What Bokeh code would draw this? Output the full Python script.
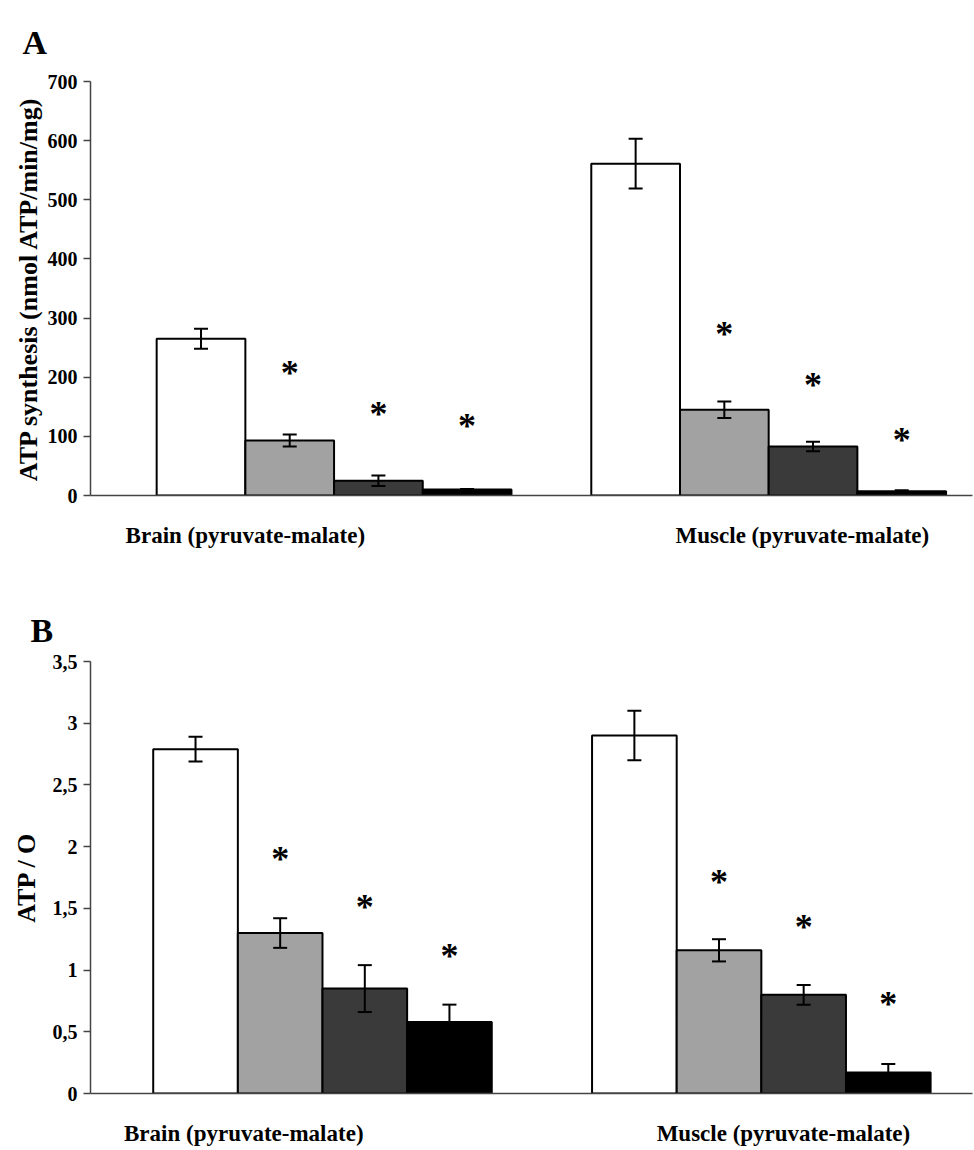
from bokeh.plotting import figure
from bokeh.layouts import column
from bokeh.models import Range1d, FixedTicker, ColumnDataSource, Whisker, TeeHead, Title
from bokeh.embed import file_html
from bokeh.resources import INLINE
from bokeh.core.properties import value

# ---------------- data ----------------
bar_colors = ["#ffffff", "#a2a2a2", "#3a3a3a", "#000000"]

a_groups = ["Brain (pyruvate-malate)", "Muscle (pyruvate-malate)"]
a_brain = [265, 93, 25, 10]
a_brain_err = [17, 10, 9, 1]
a_muscle = [561, 145, 83, 7]
a_muscle_err = [42, 14, 8, 2]
a_brain_star = [214, 144, 124]
a_muscle_star = [279, 193, 101]
a_ticks = [0, 100, 200, 300, 400, 500, 600, 700]
a_tick_labels = ["0", "100", "200", "300", "400", "500", "600", "700"]

b_groups = ["Brain (pyruvate-malate)", "Muscle  (pyruvate-malate)"]
b_brain = [2.79, 1.30, 0.85, 0.58]
b_brain_err = [0.10, 0.12, 0.19, 0.14]
b_muscle = [2.90, 1.16, 0.80, 0.17]
b_muscle_err = [0.20, 0.09, 0.08, 0.07]
b_brain_star = [1.93, 1.54, 1.15]
b_muscle_star = [1.75, 1.38, 0.76]
b_ticks = [0, 0.5, 1, 1.5, 2, 2.5, 3, 3.5]
b_tick_labels = ["0", "0,5", "1", "1,5", "2", "2,5", "3", "3,5"]

FONT = "Liberation Serif"


def panel(letter, ylabel, groups, series, errs, stars, ticks, tick_labels,
          ymax, group_start, label_x, xr, border_left, border_top, frame_h,
          height, letter_offset, letter_standoff, ylabel_standoff, group_font):
    p = figure(width=974, height=height, output_backend="svg", toolbar_location=None,
               x_range=Range1d(*xr), y_range=Range1d(0, ymax),
               min_border_left=border_left, min_border_right=2,
               min_border_top=border_top,
               min_border_bottom=height - border_top - frame_h)
    p.outline_line_color = None
    p.xgrid.visible = False
    p.ygrid.visible = False
    p.background_fill_color = "white"

    for gs, vals, er, st in zip(group_start, series, errs, stars):
        xs = [gs + i for i in range(len(vals))]
        src = ColumnDataSource(dict(x=xs, top=vals, color=bar_colors))
        p.vbar(x="x", top="top", width=1, fill_color="color", line_color="black",
               line_width=2, source=src)
        wsrc = ColumnDataSource(dict(base=xs,
                                     upper=[v + e for v, e in zip(vals, er)],
                                     lower=[v - e for v, e in zip(vals, er)]))
        w = Whisker(source=wsrc, base="base", upper="upper", lower="lower",
                    line_width=2, line_color="black", level="overlay",
                    upper_head=TeeHead(size=14, line_width=2, line_color="black"),
                    lower_head=TeeHead(size=14, line_width=2, line_color="black"))
        p.add_layout(w)
        sx = xs[1:]
        p.text(x=sx, y=st, text=["*"] * len(st), text_font=value(FONT),
               text_font_style="bold", text_font_size="36px", text_align="center",
               text_baseline="middle", y_offset=4, text_color="black")

    # y axis
    ya = p.yaxis[0]
    ya.ticker = FixedTicker(ticks=ticks)
    ya.major_label_overrides = {t: l for t, l in zip(ticks, tick_labels)}
    ya.minor_tick_line_color = None
    ya.major_tick_in = 0
    ya.major_tick_out = 7
    ya.major_label_standoff = 6
    ya.axis_line_color = "#444444"
    ya.axis_line_width = 1.5
    ya.major_tick_line_color = "#444444"
    ya.major_tick_line_width = 1.5
    ya.major_label_text_font = FONT
    ya.major_label_text_font_style = "bold"
    ya.major_label_text_font_size = "20px"
    ya.major_label_text_color = "black"
    ya.axis_label = ylabel
    ya.axis_label_text_font = FONT
    ya.axis_label_text_font_style = "bold"
    ya.axis_label_text_font_size = "26px"
    ya.axis_label_text_color = "black"
    ya.axis_label_standoff = ylabel_standoff

    # x axis with group names
    xa = p.xaxis[0]
    xa.ticker = FixedTicker(ticks=label_x)
    xa.major_label_overrides = {x: g for x, g in zip(label_x, groups)}
    xa.minor_tick_line_color = None
    xa.major_tick_line_color = None
    xa.major_tick_in = 0
    xa.major_tick_out = 0
    xa.major_label_standoff = 27
    xa.axis_line_color = "#444444"
    xa.axis_line_width = 1.5
    xa.major_label_text_font = FONT
    xa.major_label_text_font_style = "bold"
    xa.major_label_text_font_size = group_font
    xa.major_label_text_color = "black"

    t = Title(text=letter, align="left", offset=letter_offset, standoff=letter_standoff,
              text_font=FONT, text_font_style="bold", text_font_size="34px",
              text_color="black")
    p.add_layout(t, "above")
    return p


pA = panel("A", "ATP synthesis (nmol ATP/min/mg)", a_groups,
           [a_brain, a_muscle], [a_brain_err, a_muscle_err],
           [a_brain_star, a_muscle_star], a_ticks, a_tick_labels, 700,
           group_start=[1, 5.9], label_x=[1.5, 7.78], xr=(-0.246, 9.698),
           border_left=90, border_top=81, frame_h=414, height=575,
           letter_offset=-68, letter_standoff=41, ylabel_standoff=2,
           group_font="23px")

pB = panel("B", "ATP / O", b_groups,
           [b_brain, b_muscle], [b_brain_err, b_muscle_err],
           [b_brain_star, b_muscle_star], b_ticks, b_tick_labels, 3.5,
           group_start=[1, 6.185], label_x=[1.57, 7.98], xr=(-0.241, 10.18),
           border_left=82, border_top=86, frame_h=432, height=575,
           letter_offset=-60, letter_standoff=26, ylabel_standoff=9,
           group_font="23px")

layout = column(pA, pB, spacing=0)
open("out.html", "w").write(file_html(layout, INLINE))
